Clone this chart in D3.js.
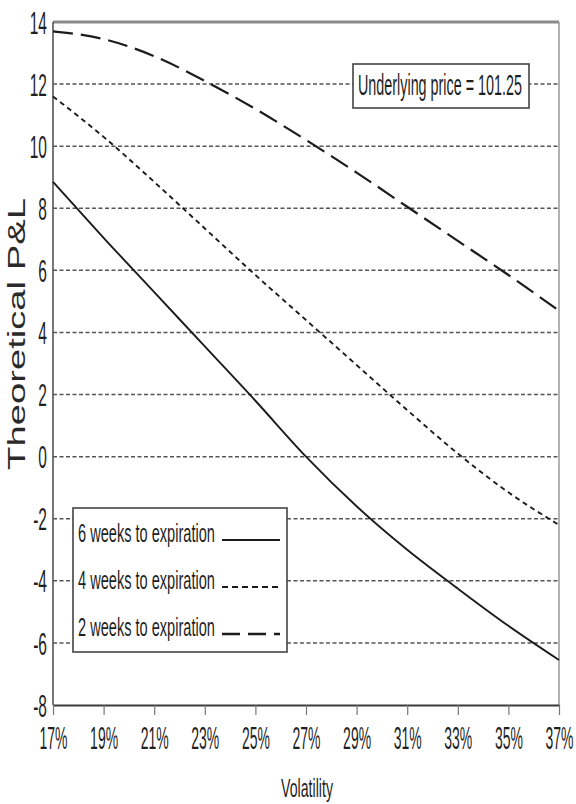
<!DOCTYPE html>
<html>
<head>
<meta charset="utf-8">
<script src="https://cdn.jsdelivr.net/npm/d3@7"></script>
<style>
  html, body { margin: 0; padding: 0; background: #fff; }
  svg { display: block; font-family: "Liberation Sans", Arial, Helvetica, sans-serif; }
</style>
</head>
<body>
<svg id="chart" width="576" height="804"></svg>
<script>
// Volatility levels (x axis, in %)
const volatility = [17, 19, 21, 23, 25, 27, 29, 31, 33, 35, 37];
// Theoretical P&L at each volatility level
const sixWeeks  = [8.85, 7.05, 5.3, 3.55, 1.8, 0.0, -1.6, -3.0, -4.25, -5.45, -6.55];
const fourWeeks = [11.6, 10.3, 8.85, 7.35, 5.85, 4.4, 2.95, 1.5, 0.1, -1.15, -2.2];
const twoWeeks  = [13.7, 13.45, 12.9, 12.1, 11.2, 10.2, 9.15, 8.05, 6.95, 5.85, 4.7];
const seriesNames = ["6 weeks to expiration", "4 weeks to expiration", "2 weeks to expiration"];
const yTicks = [14, 12, 10, 8, 6, 4, 2, 0, -2, -4, -6, -8];
const gridValues = [12, 10, 8, 6, 4, 2, 0, -2, -4, -6];
const underlyingPrice = "101.25";

const svg = d3.select("#chart");
const x = d3.scaleLinear().domain([17, 37]).range([53, 559]);
const y = d3.scaleLinear().domain([-8, 14]).range([705, 22]);
const ink = "#1f1f1f";

// condensed lettering: scale a label horizontally to a given width (or factor)
function squeeze(sel, opts) {
  sel.each(function () {
    const t = d3.select(this);
    const px = +t.attr("x") || 0, py = +t.attr("y") || 0;
    const len = this.getComputedTextLength();
    const k = opts.width ? opts.width / len : opts.k;
    t.attr("x", 0).attr("y", 0)
      .attr("transform", `translate(${px},${py}) scale(${k},1)`);
  });
}

// dotted horizontal grid
svg.append("g").selectAll("line").data(gridValues).join("line")
  .attr("x1", x(17)).attr("x2", x(37))
  .attr("y1", d => y(d)).attr("y2", d => y(d))
  .attr("stroke", "#555").attr("stroke-width", 1.5)
  .attr("stroke-dasharray", "4,2.5");

// frame
svg.append("line").attr("x1", x(17)).attr("x2", x(37)).attr("y1", y(14)).attr("y2", y(14))
  .attr("stroke", "#8a8a8a").attr("stroke-width", 3);
svg.append("line").attr("x1", x(37)).attr("x2", x(37)).attr("y1", y(14)).attr("y2", y(-8))
  .attr("stroke", "#999").attr("stroke-width", 1.5);
svg.append("line").attr("x1", x(17)).attr("x2", x(17)).attr("y1", y(14)).attr("y2", y(-8))
  .attr("stroke", "#555").attr("stroke-width", 1.6);

// x axis
const xAxis = svg.append("g").attr("transform", `translate(0,${y(-8)})`)
  .call(d3.axisBottom(x).tickValues(volatility).tickFormat(d => d + "%").tickSize(10).tickSizeOuter(0));
xAxis.select(".domain").attr("stroke", "#3a3a3a").attr("stroke-width", 2);
xAxis.selectAll(".tick line").attr("stroke", "#777").attr("stroke-width", 1.2);
xAxis.selectAll(".tick text")
  .attr("y", 44).attr("dy", 0)
  .attr("font-size", 32).attr("fill", ink)
  .call(squeeze, { width: 28 });

// y axis labels
const yAxis = svg.append("g").attr("transform", `translate(${x(17)},0)`)
  .call(d3.axisLeft(y).tickValues(yTicks).tickFormat(d => String(d)).tickSize(0).tickPadding(0));
yAxis.select(".domain").remove();
yAxis.selectAll(".tick text")
  .attr("x", -6).attr("font-size", 31).attr("fill", ink).attr("dy", "0.36em")
  .call(squeeze, { k: 0.5 });

// curves
const line = d3.line()
  .x((d, i) => x(volatility[i]))
  .y(d => y(d))
  .curve(d3.curveMonotoneX);

const series = [
  { name: seriesNames[0], values: sixWeeks,  dash: null,   legendDash: null,  width: 1.9 },
  { name: seriesNames[1], values: fourWeeks, dash: "5,4",  legendDash: "6,4", width: 1.9 },
  { name: seriesNames[2], values: twoWeeks,  dash: "20,8", legendDash: "18,8", width: 2.2 }
];

svg.append("g").selectAll("path").data(series).join("path")
  .attr("d", d => line(d.values))
  .attr("fill", "none")
  .attr("stroke", "#1c1c1c")
  .attr("stroke-width", d => d.width)
  .attr("stroke-dasharray", d => d.dash);

// underlying price note
svg.append("rect").attr("x", 353).attr("y", 64).attr("width", 176).attr("height", 44)
  .attr("fill", "#fff").attr("stroke", "#444").attr("stroke-width", 1.6);
svg.append("text").attr("x", 358).attr("y", 95)
  .attr("font-size", 29).attr("fill", ink)
  .text("Underlying price = " + underlyingPrice)
  .call(squeeze, { width: 164 });

// legend
const legend = svg.append("g");
legend.append("rect").attr("x", 73).attr("y", 508).attr("width", 214).attr("height", 144)
  .attr("fill", "#fff").attr("stroke", "#444").attr("stroke-width", 1.6);
const rows = legend.selectAll("g.row").data(series).join("g").attr("class", "row")
  .attr("transform", (d, i) => `translate(0,${533 + i * 47})`);
rows.append("text").attr("x", 78).attr("y", 9)
  .attr("font-size", 26).attr("fill", ink)
  .text(d => d.name)
  .call(squeeze, { width: 137 });
rows.append("line").attr("x1", 222).attr("x2", 280).attr("y1", 7).attr("y2", 7)
  .attr("stroke", "#1c1c1c").attr("stroke-width", d => d.width + 0.3)
  .attr("stroke-dasharray", d => d.legendDash);

// axis titles
svg.append("text").attr("x", 307).attr("y", 797).attr("text-anchor", "middle")
  .attr("font-size", 26).attr("fill", ink)
  .text("Volatility")
  .call(squeeze, { width: 52 });

const yTitle = svg.append("text")
  .attr("text-anchor", "middle")
  .attr("font-size", 24).attr("fill", "#2a2a2a")
  .text("Theoretical P&L");
const titleLen = yTitle.node().getComputedTextLength();
yTitle.attr("transform", `translate(25,334) scale(1,${272 / titleLen}) rotate(-90)`);
</script>
</body>
</html>
